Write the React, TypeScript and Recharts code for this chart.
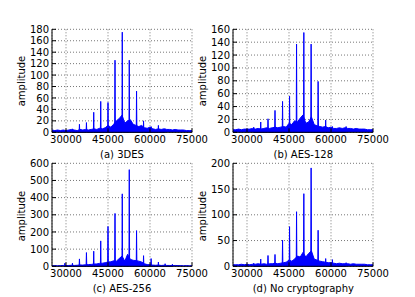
import { Area, CartesianGrid, ComposedChart, XAxis, YAxis } from 'recharts';

// frequency grid for the noise floor
const baseFreq = [
  25000, 26000, 27000, 28000, 29000, 30000, 31000, 32000, 33000, 34000, 35000,
  36000, 37000, 38000, 39000, 40000, 41000, 42000, 43000, 44000, 45000, 46000,
  47000, 48000, 49000, 50000, 51000, 52000, 53000, 54000, 55000, 56000, 57000,
  58000, 59000, 60000, 61000, 62000, 63000, 64000, 65000, 66000, 67000, 68000,
  69000, 70000, 71000, 72000, 73000, 74000, 75000,
];

const baseA = [
  4, 3, 4, 3, 4, 3, 4, 5, 4, 3, 5, 4, 5, 4, 5, 6, 5, 7, 6, 8, 12, 9, 14, 20, 24, 30,
  16, 20, 22, 14, 12, 10, 12, 8, 7, 9, 6, 5, 6, 5, 6, 5, 5, 4, 5, 4, 4, 4, 3, 3, 3,
];
const baseB = [
  4, 4, 5, 4, 5, 5, 5, 6, 5, 6, 5, 6, 7, 6, 7, 8, 7, 8, 9, 8, 14, 12, 18, 16, 22, 27,
  14, 16, 24, 12, 10, 9, 8, 9, 7, 8, 6, 6, 7, 6, 7, 6, 6, 5, 6, 5, 5, 5, 4, 4, 4,
];
const baseC = [
  3, 4, 3, 4, 5, 4, 5, 6, 5, 6, 8, 7, 9, 10, 11, 13, 14, 17, 18, 21, 25, 26, 32, 30,
  45, 60, 30, 70, 40, 35, 33, 30, 25, 15, 10, 9, 7, 6, 7, 5, 6, 5, 5, 4, 5, 4, 4, 3,
  4, 3, 3,
];
const baseD = [
  3, 3, 3, 4, 3, 4, 3, 4, 4, 5, 4, 5, 4, 5, 5, 6, 5, 6, 7, 8, 12, 10, 14, 20, 18, 27,
  18, 25, 30, 14, 12, 10, 9, 8, 7, 7, 6, 5, 6, 5, 5, 5, 4, 5, 4, 4, 4, 4, 3, 3, 3,
];

// harmonic peaks
const spikeFreqA = [32300, 34800, 37300, 39900, 42400, 45000, 47500, 50100, 52600, 55200, 57700, 60400, 63000, 65400];
const spikeAmpA = [6, 14, 17, 35, 54, 52, 126, 175, 126, 72, 20, 10, 12, 6];

const spikeFreqB = [32400, 34900, 37500, 40000, 42700, 45200, 47700, 50300, 52900, 55400, 58100, 60500, 65400];
const spikeAmpB = [8, 16, 21, 34, 48, 56, 137, 155, 137, 79, 19, 9, 9];

const spikeFreqC = [29600, 32300, 34800, 37300, 39900, 42400, 45000, 47500, 50100, 52600, 55200, 57700, 60400, 63000, 65400, 68000];
const spikeAmpC = [18, 18, 43, 80, 88, 148, 232, 308, 422, 563, 208, 62, 45, 25, 15, 12];

const spikeFreqD = [32400, 34900, 37500, 40000, 42700, 45200, 47700, 50300, 52900, 55400, 58100, 60500, 65400];
const spikeAmpD = [6, 14, 21, 23, 51, 77, 106, 141, 191, 70, 15, 13, 7];

const xTicks = [30000, 45000, 60000, 75000];
const ticksA = [0, 20, 40, 60, 80, 100, 120, 140, 160, 180];
const ticksB = [0, 20, 40, 60, 80, 100, 120, 140, 160];
const ticksC = [0, 100, 200, 300, 400, 500, 600];
const ticksD = [0, 50, 100, 150, 200];

type Row = { f: number; base?: number; spike?: number };

function buildRows(base: number[], spikeFreq: number[], spikeAmp: number[]): Row[] {
  const rows: Row[] = baseFreq.map((f, i) => ({ f, base: base[i] }));
  spikeFreq.forEach((f, i) => {
    rows.push({ f: f - 120, spike: 0 }, { f, spike: spikeAmp[i] }, { f: f + 120, spike: 0 });
  });
  return rows.sort((a, b) => a.f - b.f);
}

const font = 'DejaVu Sans, sans-serif';
const tickStyle = { fontSize: 10, fill: '#000', fontFamily: font };

type PanelProps = {
  left: number;
  top: number;
  rows: Row[];
  yTicks: number[];
  caption: string;
};

function Panel({ left, top, rows, yTicks, caption }: PanelProps) {
  const yMax = yTicks[yTicks.length - 1];
  return (
    <>
      <div style={{ position: 'absolute', left, top }}>
        <ComposedChart
          width={222}
          height={160}
          data={rows}
          margin={{ top: 29.3, right: 30, bottom: 7.7, left: 8 }}
        >
          <CartesianGrid stroke="#777" strokeDasharray="1 2" ticks={yTicks} />
          <XAxis
            dataKey="f"
            type="number"
            domain={[25000, 75000]}
            ticks={xTicks}
            interval={0}
            height={20}
            tick={tickStyle}
            tickSize={-4}
            tickMargin={8}
            stroke="#000"
          />
          <XAxis
            xAxisId="top"
            orientation="top"
            dataKey="f"
            type="number"
            domain={[25000, 75000]}
            ticks={xTicks}
            height={0}
            tick={false}
            tickSize={-4}
            stroke="#000"
          />
          <YAxis
            type="number"
            domain={[0, yMax]}
            ticks={yTicks}
            interval={0}
            width={44}
            tick={tickStyle}
            tickSize={-4}
            tickMargin={7}
            stroke="#000"
          />
          <YAxis
            yAxisId="right"
            orientation="right"
            type="number"
            domain={[0, yMax]}
            ticks={yTicks}
            width={0}
            tick={false}
            tickSize={-4}
            stroke="#000"
          />
          <Area
            type="linear"
            dataKey="base"
            stroke="#0000ff"
            strokeWidth={1}
            fill="#0000ff"
            fillOpacity={1}
            connectNulls
            dot={false}
            activeDot={false}
            isAnimationActive={false}
          />
          <Area
            type="linear"
            dataKey="spike"
            stroke="#0000ff"
            strokeWidth={1}
            fill="#0000ff"
            fillOpacity={1}
            connectNulls
            dot={false}
            activeDot={false}
            isAnimationActive={false}
          />
        </ComposedChart>
      </div>
      <div
        style={{
          position: 'absolute',
          left: left + 20.7,
          top: top + 81.3,
          transform: 'translate(-50%, -50%) rotate(-90deg)',
          fontFamily: font,
          fontSize: 10,
          whiteSpace: 'nowrap',
        }}
      >
        amplitude
      </div>
      <div
        style={{
          position: 'absolute',
          left: left + 122,
          top: top + 154,
          transform: 'translate(-50%, -50%)',
          fontFamily: font,
          fontSize: 10,
          whiteSpace: 'nowrap',
        }}
      >
        {caption}
      </div>
    </>
  );
}

export default function App() {
  return (
    <div
      style={{
        position: 'absolute',
        left: 0,
        top: 0,
        width: 415,
        height: 297,
        background: '#fff',
      }}
    >
      <Panel left={0} top={0} rows={buildRows(baseA, spikeFreqA, spikeAmpA)} yTicks={ticksA} caption="(a) 3DES" />
      <Panel left={181.3} top={0} rows={buildRows(baseB, spikeFreqB, spikeAmpB)} yTicks={ticksB} caption="(b) AES-128" />
      <Panel left={0} top={134.4} rows={buildRows(baseC, spikeFreqC, spikeAmpC)} yTicks={ticksC} caption="(c) AES-256" />
      <Panel left={181.3} top={134.4} rows={buildRows(baseD, spikeFreqD, spikeAmpD)} yTicks={ticksD} caption="(d) No cryptography" />
    </div>
  );
}
